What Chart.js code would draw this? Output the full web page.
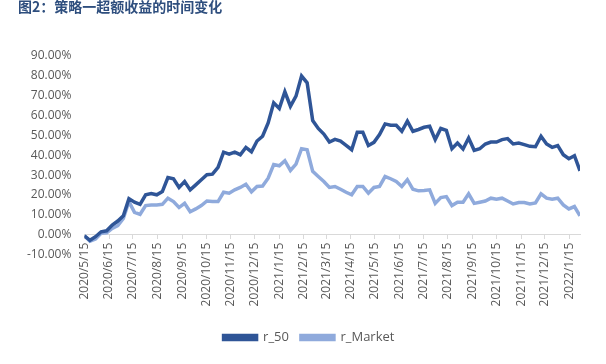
<!DOCTYPE html>
<html>
<head>
<meta charset="utf-8">
<script src="https://cdn.jsdelivr.net/npm/chart.js@4.4.1/dist/chart.umd.min.js"></script>
<style>
  html, body { margin: 0; padding: 0; background: #fff; }
  #wrap { position: relative; width: 606px; height: 364px; overflow: hidden; }
  #title {
    position: absolute; left: 18px; top: -1px;
    font: bold 14px "Noto Sans CJK SC", sans-serif; line-height: 14px;
    color: #2E4E7E;
  }
</style>
</head>
<body>
<div id="wrap">
  <div id="title">图2：策略一超额收益的时间变化</div>
  <canvas id="lineChart" width="606" height="364"></canvas>
</div>
<script>
// weekly dates (Fridays)
const dates = [
  '2020/5/15', '2020/5/22', '2020/5/29', '2020/6/5', '2020/6/12', '2020/6/19', '2020/6/26',
  '2020/7/3', '2020/7/10', '2020/7/17', '2020/7/24', '2020/7/31', '2020/8/7', '2020/8/14',
  '2020/8/21', '2020/8/28', '2020/9/4', '2020/9/11', '2020/9/18', '2020/9/25', '2020/10/2',
  '2020/10/9', '2020/10/16', '2020/10/23', '2020/10/30', '2020/11/6', '2020/11/13', '2020/11/20',
  '2020/11/27', '2020/12/4', '2020/12/11', '2020/12/18', '2020/12/25', '2021/1/1', '2021/1/8',
  '2021/1/15', '2021/1/22', '2021/1/29', '2021/2/5', '2021/2/12', '2021/2/19', '2021/2/26',
  '2021/3/5', '2021/3/12', '2021/3/19', '2021/3/26', '2021/4/2', '2021/4/9', '2021/4/16',
  '2021/4/23', '2021/4/30', '2021/5/7', '2021/5/14', '2021/5/21', '2021/5/28', '2021/6/4',
  '2021/6/11', '2021/6/18', '2021/6/25', '2021/7/2', '2021/7/9', '2021/7/16', '2021/7/23',
  '2021/7/30', '2021/8/6', '2021/8/13', '2021/8/20', '2021/8/27', '2021/9/3', '2021/9/10',
  '2021/9/17', '2021/9/24', '2021/10/1', '2021/10/8', '2021/10/15', '2021/10/22', '2021/10/29',
  '2021/11/5', '2021/11/12', '2021/11/19', '2021/11/26', '2021/12/3', '2021/12/10', '2021/12/17',
  '2021/12/24', '2021/12/31', '2022/1/7', '2022/1/14', '2022/1/21', '2022/1/28'
];

// excess return, %
const r50 = [
  -0.5, -2.8, -1.0, 1.5, 2.0, 4.9, 6.9, 9.5, 18.2, 16.4,
  15.3, 20.1, 20.7, 20.1, 21.7, 28.8, 28.2, 23.8, 26.8, 22.6,
  25.1, 27.7, 30.2, 30.5, 33.9, 41.6, 40.6, 41.6, 40.3, 44.0,
  41.8, 47.2, 49.6, 56.3, 66.4, 63.6, 72.0, 64.7, 69.8, 79.9,
  76.5, 57.5, 53.5, 50.7, 46.7, 48.0, 47.2, 45.0, 42.8, 51.6,
  51.6, 44.9, 46.5, 50.4, 55.8, 55.1, 55.1, 52.1, 57.2, 52.1,
  53.0, 54.1, 54.6, 47.9, 53.5, 52.5, 43.3, 46.2, 43.2, 48.7,
  42.5, 43.3, 45.7, 46.7, 46.7, 47.9, 48.4, 45.7, 46.2, 45.4,
  44.5, 44.3, 49.6, 45.7, 44.0, 44.9, 40.3, 38.3, 39.8, 32.2
];
const rMarket = [
  -0.5, -3.3, -2.2, 0.7, 1.0, 3.2, 4.6, 8.2, 16.7, 11.3,
  10.3, 14.7, 15.0, 15.0, 15.3, 18.4, 16.7, 13.7, 15.8, 11.6,
  13.0, 14.7, 17.0, 16.7, 16.7, 21.4, 20.9, 22.6, 23.8, 25.4,
  21.6, 24.3, 24.5, 28.5, 35.3, 34.7, 37.3, 32.4, 35.6, 43.3,
  42.8, 31.9, 29.3, 26.8, 23.8, 24.3, 22.9, 21.4, 20.1, 24.3,
  24.3, 20.9, 23.8, 24.3, 29.3, 28.2, 26.8, 24.3, 27.7, 22.9,
  22.1, 22.3, 22.6, 15.8, 18.7, 19.2, 14.7, 16.4, 16.4, 20.6,
  15.8, 16.4, 17.0, 18.4, 17.9, 18.4, 17.0, 15.5, 16.2, 16.2,
  15.5, 16.0, 20.6, 18.4, 17.9, 18.4, 15.0, 13.0, 14.2, 9.5
];

const tickLabels = [
  '2020/5/15', '2020/6/15', '2020/7/15', '2020/8/15', '2020/9/15', '2020/10/15', '2020/11/15',
  '2020/12/15', '2021/1/15', '2021/2/15', '2021/3/15', '2021/4/15', '2021/5/15', '2021/6/15',
  '2021/7/15', '2021/8/15', '2021/9/15', '2021/10/15', '2021/11/15', '2021/12/15', '2022/1/15'
];

// days since the first date, so the x axis behaves like a date axis
function toDay(s) {
  const [y, m, d] = s.split('/').map(Number);
  return Date.UTC(y, m - 1, d) / 86400000;
}
const day0 = toDay(dates[0]);
const xDays = dates.map(s => toDay(s) - day0);
const tickDays = tickLabels.map(s => toDay(s) - day0);

const axisFont = { family: '"Open Sans", sans-serif', size: 12 };
const textColor = '#595959';

// nudge the legend a little to the right, like the original
const legendShift = {
    id: 'legendShift',
    afterLayout(chart) {
        chart.legend.left += 12;
        chart.legend.right += 12;
    },
};

const ctx = document.getElementById('lineChart').getContext('2d');
const chart = new Chart(ctx, {
    type: 'line',
    data: {
        datasets: [
            {
                label: 'r_50',
                data: r50.map((v, i) => ({ x: xDays[i], y: v })),
                borderColor: '#2F5597',
                backgroundColor: '#2F5597',
                borderWidth: 3.5,
                pointRadius: 0,
                tension: 0,
            },
            {
                label: 'r_Market',
                data: rMarket.map((v, i) => ({ x: xDays[i], y: v })),
                borderColor: '#8FAADC',
                backgroundColor: '#8FAADC',
                borderWidth: 3.5,
                pointRadius: 0,
                tension: 0,
            },
        ],
    },
    options: {
        responsive: false,
        animation: false,
        layout: { padding: { top: 56, left: 14, right: 26, bottom: 10 } },
        plugins: {
            legend: {
                position: 'bottom',
                // empty title only to leave room for the x labels above the legend
                title: { display: true, text: '', font: { size: 12 }, padding: { top: 50, bottom: 0 } },
                labels: {
                    boxWidth: 33,
                    boxHeight: 4,
                    color: textColor,
                    font: { family: '"Open Sans", sans-serif', size: 13 },
                    padding: 12,
                },
            },
            tooltip: { enabled: false },
        },
        scales: {
            x: {
                type: 'linear',
                position: { y: 0 },
                min: 0,
                max: xDays[xDays.length - 1],
                afterBuildTicks: scale => {
                    scale.ticks = tickDays.map(v => ({ value: v }));
                },
                ticks: {
                    autoSkip: false,
                    minRotation: 90,
                    maxRotation: 90,
                    padding: 4,
                    color: textColor,
                    font: axisFont,
                    callback: (v, i) => tickLabels[i],
                },
                grid: { drawOnChartArea: false, tickLength: 4, color: '#D9D9D9' },
                border: { color: '#D9D9D9' },
            },
            y: {
                min: -10,
                max: 90,
                ticks: {
                    stepSize: 10,
                    padding: 13,
                    color: textColor,
                    font: axisFont,
                    callback: v => v.toFixed(2) + '%',
                },
                grid: { display: false, drawTicks: false },
                border: { display: false },
            },
        },
    },
    plugins: [legendShift],
});
</script>
</body>
</html>
